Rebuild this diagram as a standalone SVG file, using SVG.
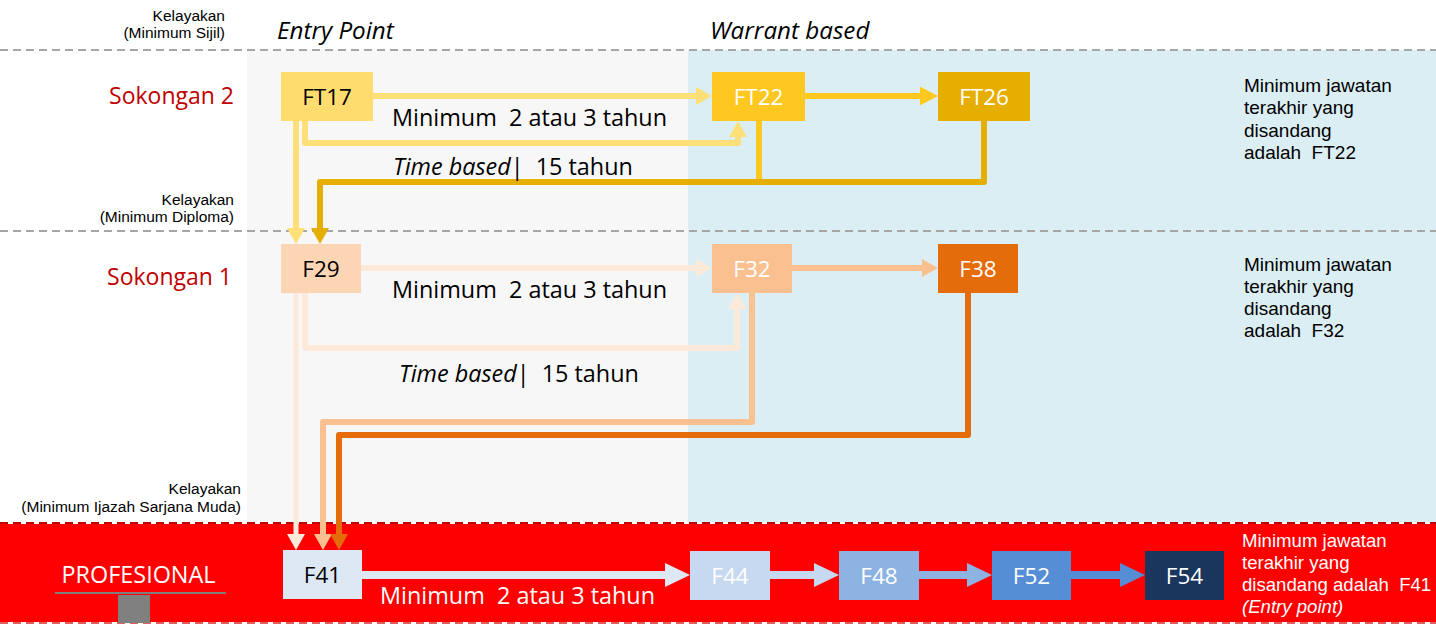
<svg xmlns="http://www.w3.org/2000/svg" width="1436" height="625" viewBox="0 0 1436 625">
  <style>
    text { font-family: "Open Sans", "Noto Sans", "DejaVu Sans", sans-serif; }
    .qual { font-family: "Liberation Sans", Arial, sans-serif; font-size: 15.5px; fill: #000; text-anchor: end; }
    .tier { font-size: 23px; fill: #C00000; text-anchor: end; }
    .head { font-size: 24.2px; font-style: italic; fill: #000; }
    .node-dark { font-size: 22.5px; fill: #000; text-anchor: middle; }
    .node-light { font-size: 22.5px; fill: #fff; text-anchor: middle; }
    .lbl { font-size: 23.4px; fill: #000; }
    .note { font-family: "Liberation Sans", Arial, sans-serif; font-size: 19px; fill: #000; }
    .note-w { font-family: "Liberation Sans", Arial, sans-serif; font-size: 18.6px; fill: #fff; }
    .sep { stroke: #A6A6A6; stroke-width: 2; stroke-dasharray: 8 5; fill: none; }
    .conn { fill: none; stroke-linejoin: round; }
  </style>
  <defs>
    <marker id="a-ylw" markerUnits="userSpaceOnUse" markerWidth="16" markerHeight="18" refX="0" refY="9" orient="auto" overflow="visible"><path d="M0,0 L16,9 L0,18 z" fill="#FFDF78"/></marker>
    <marker id="a-gold" markerUnits="userSpaceOnUse" markerWidth="18" markerHeight="19" refX="0" refY="9.5" orient="auto" overflow="visible"><path d="M0,0 L18,9.5 L0,19 z" fill="#FFC820"/></marker>
    <marker id="a-dgold" markerUnits="userSpaceOnUse" markerWidth="16" markerHeight="18" refX="0" refY="9" orient="auto" overflow="visible"><path d="M0,0 L16,9 L0,18 z" fill="#E6AE00"/></marker>
    <marker id="a-pch" markerUnits="userSpaceOnUse" markerWidth="16" markerHeight="18" refX="0" refY="9" orient="auto" overflow="visible"><path d="M0,0 L16,9 L0,18 z" fill="#FDE9D9"/></marker>
    <marker id="a-apr" markerUnits="userSpaceOnUse" markerWidth="16" markerHeight="18" refX="0" refY="9" orient="auto" overflow="visible"><path d="M0,0 L16,9 L0,18 z" fill="#FAC090"/></marker>
    <marker id="a-org" markerUnits="userSpaceOnUse" markerWidth="16" markerHeight="18" refX="0" refY="9" orient="auto" overflow="visible"><path d="M0,0 L16,9 L0,18 z" fill="#E46C0A"/></marker>
    <marker id="a-b0" markerUnits="userSpaceOnUse" markerWidth="25" markerHeight="24" refX="0" refY="12" orient="auto" overflow="visible"><path d="M0,0 L25,12 L0,24 z" fill="#DEE8F5"/></marker>
    <marker id="a-b1" markerUnits="userSpaceOnUse" markerWidth="25" markerHeight="24" refX="0" refY="12" orient="auto" overflow="visible"><path d="M0,0 L25,12 L0,24 z" fill="#C6D9F0"/></marker>
    <marker id="a-b2" markerUnits="userSpaceOnUse" markerWidth="25" markerHeight="24" refX="0" refY="12" orient="auto" overflow="visible"><path d="M0,0 L25,12 L0,24 z" fill="#8DB3E2"/></marker>
    <marker id="a-b3" markerUnits="userSpaceOnUse" markerWidth="25" markerHeight="24" refX="0" refY="12" orient="auto" overflow="visible"><path d="M0,0 L25,12 L0,24 z" fill="#558ED5"/></marker>
  </defs>

  <!-- background panels -->
  <g id="backdrop">
    <rect x="0" y="0" width="1436" height="625" fill="#fff"/>
    <rect x="247" y="50" width="441" height="472" fill="#F7F7F7"/>
    <rect x="688" y="50" width="748" height="472" fill="#DBEEF4"/>
    <rect x="0" y="522" width="1436" height="101" fill="#FF0000"/>
    <line x1="0" y1="523" x2="1436" y2="523" stroke="#fff" stroke-width="2"/>
    <line x1="0" y1="523" x2="1436" y2="523" stroke="#C00000" stroke-width="2" stroke-dasharray="8 5"/>
    <line x1="0" y1="623" x2="1436" y2="623" stroke="#fff" stroke-width="2"/>
    <line x1="0" y1="623" x2="1436" y2="623" stroke="#E06060" stroke-width="2" stroke-dasharray="8 5"/>
    <line class="sep" x1="0" y1="50" x2="1436" y2="50"/>
    <line class="sep" x1="0" y1="231" x2="1436" y2="231"/>
  </g>

  <!-- left-hand labels -->
  <g id="labels-left">
    <text class="qual" x="225" y="20.5">Kelayakan</text>
    <text class="qual" x="225" y="38">(Minimum Sijil)</text>
    <text class="tier" x="234" y="104">Sokongan 2</text>
    <text class="qual" x="234" y="204.5">Kelayakan</text>
    <text class="qual" x="234" y="222">(Minimum Diploma)</text>
    <text class="tier" x="232" y="285">Sokongan 1</text>
    <text class="qual" x="241" y="494">Kelayakan</text>
    <text class="qual" x="241" y="512">(Minimum Ijazah Sarjana Muda)</text>
  </g>

  <g id="profesional">
    <text x="138.5" y="583" font-size="23.4" fill="#fff" text-anchor="middle">PROFESIONAL</text>
    <line x1="55" y1="593" x2="226" y2="593" stroke="#7F7F7F" stroke-width="2"/>
    <rect x="118" y="595" width="32" height="28" fill="#808080"/>
  </g>

  <!-- column headings -->
  <text class="head" x="277" y="39">Entry Point</text>
  <text class="head" x="710" y="39">Warrant based</text>

  <!-- connectors -->
  <g id="connectors" class="conn">
    <!-- Sokongan 2 -->
    <path d="M373,96 H696" stroke="#FFDF78" stroke-width="6" marker-end="url(#a-ylw)"/>
    <path d="M305,121 V143 H738 V137" stroke="#FFDF78" stroke-width="6" marker-end="url(#a-ylw)"/>
    <path d="M296,121 V228" stroke="#FFDF78" stroke-width="6" marker-end="url(#a-ylw)"/>
    <path d="M759,121 V182" stroke="#FFC820" stroke-width="6"/>
    <path d="M984,121 V182 H320 V228" stroke="#E6AE00" stroke-width="6" marker-end="url(#a-dgold)"/>
    <path d="M805,96 H920" stroke="#FFC820" stroke-width="6" marker-end="url(#a-gold)"/>
    <!-- Sokongan 1 -->
    <path d="M361,268 H696" stroke="#FDE9D9" stroke-width="6" marker-end="url(#a-pch)"/>
    <path d="M305,293 V348 H737 V309" stroke="#FDE9D9" stroke-width="6" marker-end="url(#a-pch)"/>
    <path d="M296,293 V534" stroke="#FDE9D9" stroke-width="5" marker-end="url(#a-pch)"/>
    <path d="M792,268 H922" stroke="#FAC090" stroke-width="6" marker-end="url(#a-apr)"/>
    <path d="M752,293 V422 H323 V534" stroke="#FAC090" stroke-width="6" marker-end="url(#a-apr)"/>
    <path d="M968,293 V435 H339 V534" stroke="#E46C0A" stroke-width="6" marker-end="url(#a-org)"/>
    <!-- Profesional -->
    <path d="M362,575 H665" stroke="#DEE8F5" stroke-width="8" marker-end="url(#a-b0)"/>
    <path d="M770,575 H814" stroke="#C6D9F0" stroke-width="8" marker-end="url(#a-b1)"/>
    <path d="M919,575 H967" stroke="#8DB3E2" stroke-width="8" marker-end="url(#a-b2)"/>
    <path d="M1071,575 H1120" stroke="#558ED5" stroke-width="8" marker-end="url(#a-b3)"/>
  </g>

  <!-- connector labels -->
  <g id="connector-labels">
    <text class="lbl" x="392" y="126" xml:space="preserve">Minimum  2 atau 3 tahun</text>
    <text class="lbl" x="393" y="175" xml:space="preserve"><tspan font-style="italic">Time based</tspan>|  15 tahun</text>
    <text class="lbl" x="392" y="298" xml:space="preserve">Minimum  2 atau 3 tahun</text>
    <text class="lbl" x="399" y="382" xml:space="preserve"><tspan font-style="italic">Time based</tspan>|  15 tahun</text>
    <text class="lbl" x="380" y="604" style="fill:#fff" xml:space="preserve">Minimum  2 atau 3 tahun</text>
  </g>

  <!-- grade nodes -->
  <g id="FT17"><rect x="281" y="72" width="92" height="49" fill="#FFDC6E"/><text class="node-dark" x="327" y="104.5">FT17</text></g>
  <g id="FT22"><rect x="712" y="72" width="93" height="49" fill="#FFC820"/><text class="node-light" x="758.5" y="104.5">FT22</text></g>
  <g id="FT26"><rect x="938" y="72" width="92" height="49" fill="#E6AE00"/><text class="node-light" x="984" y="104.5">FT26</text></g>
  <g id="F29"><rect x="281" y="244" width="80" height="49" fill="#FCD5B5"/><text class="node-dark" x="321" y="276.5">F29</text></g>
  <g id="F32"><rect x="712" y="244" width="80" height="49" fill="#FAC090"/><text class="node-light" x="752" y="276.5">F32</text></g>
  <g id="F38"><rect x="938" y="244" width="80" height="49" fill="#E46C0A"/><text class="node-light" x="978" y="276.5">F38</text></g>
  <g id="F41"><rect x="283" y="550" width="79" height="49" fill="#DEE8F5"/><text class="node-dark" x="322.5" y="582.5">F41</text></g>
  <g id="F44"><rect x="690" y="551" width="80" height="49" fill="#C6D9F0"/><text class="node-light" x="730" y="583.5">F44</text></g>
  <g id="F48"><rect x="839" y="551" width="80" height="49" fill="#8DB3E2"/><text class="node-light" x="879" y="583.5">F48</text></g>
  <g id="F52"><rect x="992" y="551" width="79" height="49" fill="#558ED5"/><text class="node-light" x="1031.5" y="583.5">F52</text></g>
  <g id="F54"><rect x="1145" y="551" width="79" height="49" fill="#1B365D"/><text class="node-light" x="1184.5" y="583.5">F54</text></g>

  <!-- right-hand notes -->
  <g id="note-sokongan2">
    <text class="note" x="1244" y="92">Minimum jawatan</text>
    <text class="note" x="1244" y="114">terakhir yang</text>
    <text class="note" x="1244" y="136.5">disandang</text>
    <text class="note" x="1244" y="159" xml:space="preserve">adalah  FT22</text>
  </g>
  <g id="note-sokongan1">
    <text class="note" x="1244" y="271">Minimum jawatan</text>
    <text class="note" x="1244" y="293">terakhir yang</text>
    <text class="note" x="1244" y="315">disandang</text>
    <text class="note" x="1244" y="337" xml:space="preserve">adalah  F32</text>
  </g>
  <g id="note-profesional">
    <text class="note-w" x="1242" y="547">Minimum jawatan</text>
    <text class="note-w" x="1242" y="569">terakhir yang</text>
    <text class="note-w" x="1242" y="591" xml:space="preserve">disandang adalah  F41</text>
    <text class="note-w" x="1242" y="613" font-style="italic">(Entry point)</text>
  </g>
</svg>
